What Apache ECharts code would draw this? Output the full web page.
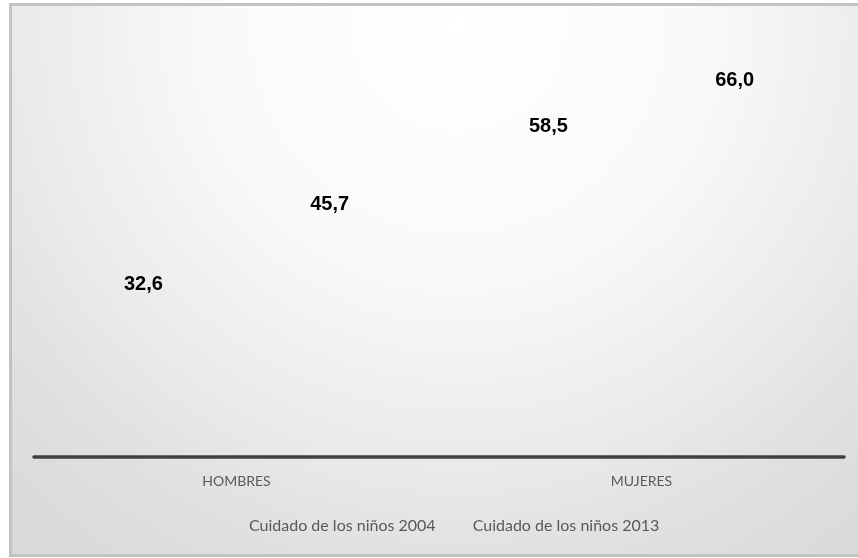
<!DOCTYPE html>
<html>
<head>
<meta charset="utf-8">
<script src="https://cdn.jsdelivr.net/npm/echarts@6/dist/echarts.min.js"></script>
<style>
html,body{margin:0;padding:0;background:#ffffff;}
#chart{width:858px;height:558px;}
</style>
</head>
<body>
<div id="chart"></div>
<script>
const categories = ['HOMBRES', 'MUJERES'];
const seriesNames = ['Cuidado de los niños 2004', 'Cuidado de los niños 2013'];
const values2004 = [32.6, 58.5];
const values2013 = [45.7, 66.0];

const chart = echarts.init(document.getElementById('chart'), null, {renderer: 'canvas'});

const labelStyle = {
  show: true,
  position: 'insideTop',
  distance: 17,
  color: '#000000',
  fontFamily: 'Liberation Sans, Arial, sans-serif',
  fontWeight: 'bold',
  fontSize: 20,
  formatter: p => p.value.toFixed(1).replace('.', ',')
};

const option = {
  animation: false,
  backgroundColor: '#ffffff',
  graphic: [{
    type: 'rect',
    z: -10,
    silent: true,
    shape: {x: 10.5, y: 4.5, width: 860, height: 551},
    style: {
      fill: {
        type: 'radial', x: 0.52, y: 0.04, r: 1.2,
        colorStops: [
          {offset: 0, color: '#ffffff'},
          {offset: 0.38, color: '#f9f9f9'},
          {offset: 0.66, color: '#eaeaea'},
          {offset: 0.8, color: '#e1e1e1'},
          {offset: 1, color: '#d9d9d9'}
        ]
      },
      stroke: '#c3c3c3',
      lineWidth: 3
    }
  }],
  grid: {left: 34, right: 14, top: 29, bottom: 101, containLabel: false},
  legend: {
    data: seriesNames,
    bottom: 19,
    left: 239,
    itemWidth: 0,
    itemHeight: 0,
    itemGap: 32,
    icon: 'none',
    textStyle: {color: '#595959', fontSize: 16, fontFamily: 'Lato, sans-serif'}
  },
  xAxis: {
    type: 'category',
    data: categories,
    axisLine: {show: true, lineStyle: {color: '#404040', width: 3.5}},
    axisTick: {show: false},
    axisLabel: {color: '#595959', fontSize: 14, fontFamily: 'Lato, sans-serif', margin: 17}
  },
  yAxis: {
    type: 'value', min: 0, max: 70, show: false,
    splitLine: {show: false}
  },
  series: [
    {
      name: seriesNames[0], type: 'bar', data: values2004,
      barWidth: 140, barGap: '33%',
      itemStyle: {color: 'rgba(0,0,0,0)'},
      label: labelStyle
    },
    {
      name: seriesNames[1], type: 'bar', data: values2013,
      barWidth: 140,
      itemStyle: {color: 'rgba(0,0,0,0)'},
      label: labelStyle
    }
  ]
};
chart.setOption(option);
</script>
</body>
</html>
